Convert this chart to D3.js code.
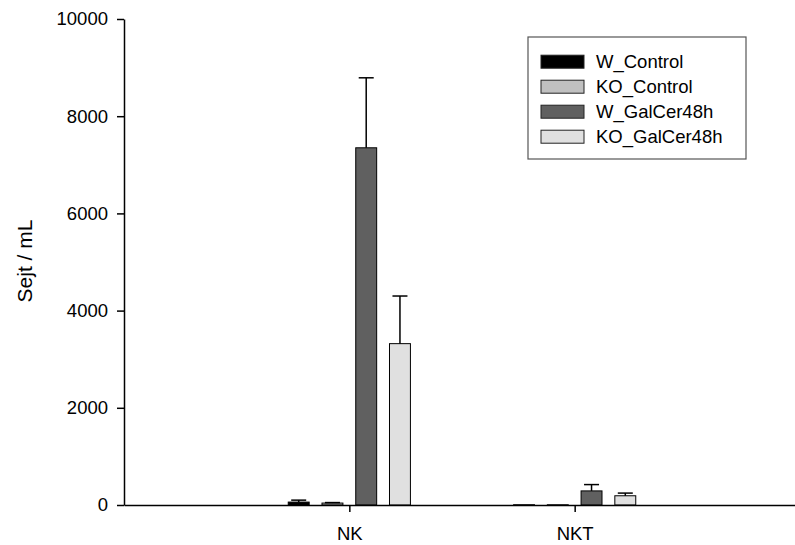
<!DOCTYPE html>
<html>
<head>
<meta charset="utf-8">
<script src="https://cdn.jsdelivr.net/npm/d3@7"></script>
<style>
  body { margin: 0; background: #fff; }
  svg { display: block; font-family: "Liberation Sans", Arial, sans-serif; }
</style>
</head>
<body>
<svg id="chart" width="795" height="545"></svg>
<script>
const categories = ["NK", "NKT"];
const seriesNames = ["W_Control", "KO_Control", "W_GalCer48h", "KO_GalCer48h"];
const seriesColors = ["#000000", "#c0c0c0", "#606060", "#e0e0e0"];
const wControl = [60, 5];
const wControlErr = [40, 0];
const koControl = [40, 5];
const koControlErr = [10, 0];
const wGalCer = [7350, 290];
const wGalCerErr = [1440, 130];
const koGalCer = [3320, 190];
const koGalCerErr = [980, 55];
const yTicks = [0, 2000, 4000, 6000, 8000, 10000];

const seriesValues = [wControl, koControl, wGalCer, koGalCer];
const seriesErrors = [wControlErr, koControlErr, wGalCerErr, koGalCerErr];

const svg = d3.select("#chart");
const plotLeft = 124, plotRight = 800, plotTop = 19, plotBottom = 505;

const x = d3.scalePoint().domain(categories).range([plotLeft, plotRight]).padding(1);
const xs = d3.scaleBand().domain(seriesNames).range([-67.5, 67.5]).paddingInner(0.38).paddingOuter(0.19);
const y = d3.scaleLinear().domain([0, 10000]).range([plotBottom, plotTop]);

const data = [];
categories.forEach((c, ci) => {
  seriesNames.forEach((s, si) => {
    data.push({cat: c, series: s, color: seriesColors[si], value: seriesValues[si][ci], err: seriesErrors[si][ci]});
  });
});

// bars
svg.append("g").selectAll("rect").data(data).join("rect")
  .attr("x", d => x(d.cat) + xs(d.series))
  .attr("y", d => y(d.value))
  .attr("width", xs.bandwidth())
  .attr("height", d => y(0) - y(d.value))
  .attr("fill", d => d.color)
  .attr("stroke", "#000")
  .attr("stroke-width", 1);

// error bars (upper only)
const eb = svg.append("g").attr("stroke", "#000").attr("stroke-width", 1.5);
data.filter(d => d.err > 0).forEach(d => {
  const cx = x(d.cat) + xs(d.series) + xs.bandwidth() / 2;
  eb.append("line").attr("x1", cx).attr("x2", cx).attr("y1", y(d.value)).attr("y2", y(d.value + d.err));
  eb.append("line").attr("x1", cx - 7.5).attr("x2", cx + 7.5).attr("y1", y(d.value + d.err)).attr("y2", y(d.value + d.err));
});

// y axis
const yAxis = svg.append("g").attr("transform", `translate(${plotLeft},0)`)
  .call(d3.axisLeft(y).tickValues(yTicks).tickSize(7).tickPadding(9).tickSizeOuter(0).tickFormat(d3.format("d")));
yAxis.selectAll("text").attr("font-size", "18.5px").attr("fill", "#000").attr("font-family", "Liberation Sans, Arial, sans-serif");
yAxis.selectAll("line,path").attr("stroke", "#000").attr("stroke-width", 1.5);

// x axis
const xAxis = svg.append("g").attr("transform", `translate(0,${plotBottom})`)
  .call(d3.axisBottom(x).tickSize(7).tickPadding(15).tickSizeOuter(0));
xAxis.selectAll("text").attr("font-size", "18.5px").attr("fill", "#000").attr("font-family", "Liberation Sans, Arial, sans-serif");
xAxis.selectAll("line,path").attr("stroke", "#000").attr("stroke-width", 1.5);

// y label
svg.append("text")
  .attr("transform", "translate(32,261) rotate(-90)")
  .attr("text-anchor", "middle")
  .attr("font-size", "21px")
  .attr("fill", "#000")
  .text("Sejt / mL");

// legend
const lg = svg.append("g");
lg.append("rect").attr("x", 528).attr("y", 37).attr("width", 218).attr("height", 122)
  .attr("fill", "#fff").attr("stroke", "#555").attr("stroke-width", 1.2);
seriesNames.forEach((s, i) => {
  const cy = 61.7 + i * 25;
  lg.append("rect").attr("x", 541).attr("y", cy - 6.5).attr("width", 43).attr("height", 13)
    .attr("fill", seriesColors[i]).attr("stroke", "#222").attr("stroke-width", 1);
  lg.append("text").attr("x", 596).attr("y", cy + 6.5).attr("font-size", "18.5px").attr("fill", "#000").text(s);
});
</script>
</body>
</html>
